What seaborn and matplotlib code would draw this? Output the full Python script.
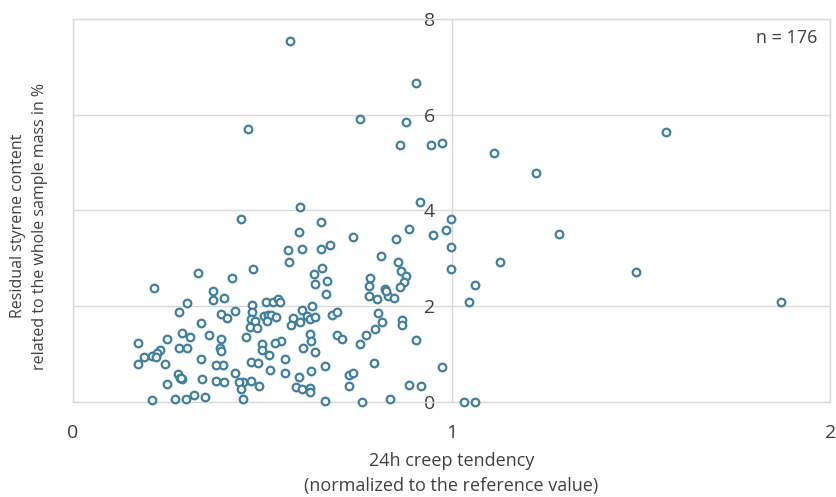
import matplotlib
matplotlib.use("Agg")
import matplotlib.pyplot as plt
import seaborn as sns
import pandas as pd

# 24h creep tendency (normalized to the reference value)
creep = [
    0.599, 0.443, 0.656, 0.887, 0.999, 0.596, 0.740, 0.852, 0.951, 0.986,
    0.568, 0.606, 0.656, 0.680, 0.999, 0.570, 0.813, 0.858, 0.999, 0.329,
    0.419, 0.476, 0.214, 0.637, 0.659, 0.639, 0.672, 0.668, 0.785, 0.781,
    0.782, 0.803, 0.823, 0.831, 0.849, 0.867, 0.880, 0.874, 0.864, 1.061,
    1.046, 0.369, 0.370, 0.399, 0.300, 0.280, 0.339, 0.392, 0.408, 0.429,
    0.472, 0.472, 0.509, 0.529, 0.542, 0.546, 0.471, 0.480, 0.467, 0.485,
    0.504, 0.515, 0.524, 0.536, 0.513, 0.580, 0.575, 0.599, 0.606, 0.617,
    0.625, 0.631, 0.684, 0.698, 0.806, 0.817, 0.798, 0.775, 0.757, 0.869,
    0.869, 0.907, 0.975, 0.697, 0.710, 0.625, 0.630, 0.608, 0.639, 0.665,
    0.630, 0.596, 0.590, 0.605, 0.625, 0.627, 0.559, 0.560, 0.550, 0.533,
    0.521, 0.518, 0.498, 0.500, 0.457, 0.469, 0.490, 0.448, 0.429, 0.438,
    0.445, 0.448, 0.469, 0.492, 0.397, 0.379, 0.379, 0.398, 0.390, 0.388,
    0.390, 0.360, 0.339, 0.342, 0.348, 0.319, 0.298, 0.269, 0.209, 0.288,
    0.309, 0.280, 0.300, 0.249, 0.230, 0.221, 0.208, 0.218, 0.188, 0.172,
    0.171, 0.243, 0.278, 0.289, 0.282, 0.249, 0.665, 0.763, 0.838, 0.729,
    0.728, 0.739, 0.794, 0.887, 0.918, 1.033, 1.061, 0.916, 0.573, 0.905,
    0.757, 0.880, 0.463, 0.863, 0.946, 0.975, 1.113, 1.222, 1.566, 1.283,
    1.128, 1.486, 1.870, 0.826, 0.286, 0.640,
]

# Residual styrene content in % of the whole sample mass
styrene = [
    4.08, 3.82, 3.76, 3.61, 3.82, 3.54, 3.44, 3.40, 3.49, 3.58,
    3.17, 3.19, 3.19, 3.28, 3.24, 2.91, 3.05, 2.93, 2.77, 2.68,
    2.58, 2.77, 2.38, 2.67, 2.79, 2.45, 2.52, 2.25, 2.59, 2.42,
    2.20, 2.15, 2.35, 2.20, 2.16, 2.73, 2.62, 2.51, 2.39, 2.43,
    2.08, 2.32, 2.13, 2.16, 2.07, 1.87, 1.65, 1.83, 1.74, 1.90,
    2.02, 1.88, 2.08, 2.08, 2.14, 2.08, 1.73, 1.69, 1.57, 1.55,
    1.79, 1.81, 1.81, 1.76, 1.69, 1.74, 1.60, 1.66, 1.92, 1.80,
    1.73, 2.01, 1.81, 1.88, 1.86, 1.66, 1.51, 1.39, 1.21, 1.71,
    1.60, 1.29, 0.72, 1.39, 1.31, 1.42, 1.26, 1.13, 1.03, 0.75,
    0.65, 0.52, 0.31, 0.26, 0.29, 0.20, 0.59, 0.89, 1.26, 1.22,
    0.66, 0.98, 1.21, 1.08, 1.36, 0.82, 0.80, 0.42, 0.59, 0.42,
    0.26, 0.05, 0.44, 0.33, 0.77, 0.77, 0.43, 0.41, 1.32, 1.12,
    1.05, 1.39, 0.89, 0.47, 0.10, 0.13, 0.06, 0.06, 0.03, 1.43,
    1.36, 1.13, 1.12, 1.32, 1.09, 1.01, 0.96, 0.93, 0.94, 0.78,
    1.22, 0.78, 0.58, 0.47, 0.49, 0.37, 0.02, 0.00, 0.05, 0.33,
    0.56, 0.59, 0.80, 0.35, 0.33, 0.00, 0.00, 4.18, 7.55, 6.66,
    5.91, 5.84, 5.70, 5.36, 5.37, 5.41, 5.20, 4.78, 5.64, 3.50,
    2.93, 2.72, 2.09, 2.32, 0.50, 1.78,
]

x_ticks = [0, 1, 2]
y_ticks = [0, 2, 4, 6, 8]

df = pd.DataFrame({"creep": creep, "styrene": styrene})

sns.set_theme(style="white")
plt.rcParams["font.family"] = ["Open Sans", "DejaVu Sans"]

grid_color = "#d9d9d9"
text_color = "#404040"
marker_color = "#417f9f"

fig = plt.figure(figsize=(8.36, 4.97), dpi=100)
ax = fig.add_axes([0.0873, 0.1918, 0.9057, 0.770])

sns.scatterplot(
    data=df, x="creep", y="styrene", ax=ax,
    marker="o", s=30, facecolor="white", edgecolor=marker_color,
    linewidth=1.6, zorder=3, clip_on=False,
)

ax.set_xlim(0, 2)
ax.set_ylim(0, 8)
ax.set_xticks(x_ticks)
ax.set_yticks(y_ticks)
ax.set_xticklabels([str(t) for t in x_ticks])
ax.set_yticklabels([str(t) for t in y_ticks])

# light gridlines, vertical axis crossing at x = 1
ax.grid(True, color=grid_color, linewidth=1.0, zorder=0)
for side in ("top", "right", "bottom"):
    ax.spines[side].set_color(grid_color)
    ax.spines[side].set_linewidth(1.0)
ax.spines["left"].set_position(("data", 1))
ax.spines["left"].set_visible(False)
ax.axvline(0, color=grid_color, linewidth=1.0, clip_on=False, zorder=0)

ax.tick_params(axis="y", length=0, pad=12, labelsize=14, labelcolor=text_color)
ax.tick_params(axis="x", length=0, pad=16, labelsize=14, labelcolor=text_color)

ax.set_xlabel("24h creep tendency\n(normalized to the reference value)",
              fontsize=13, color=text_color, labelpad=7, linespacing=1.55)
ax.set_ylabel("")
fig.text(0.035, 0.545, "Residual styrene content\nrelated to the whole sample mass in %",
         rotation=90, ha="center", va="center", fontsize=11.5,
         color=text_color, linespacing=1.5)

ax.text(0.983, 0.95, "n = 176", transform=ax.transAxes, ha="right", va="center",
        fontsize=13, color=text_color)

fig.savefig("out.png", dpi=100)
